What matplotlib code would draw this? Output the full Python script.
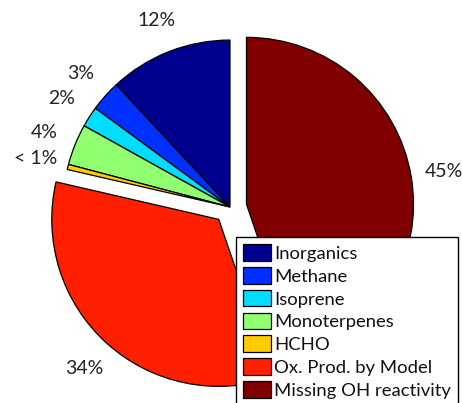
import numpy as np
import matplotlib
matplotlib.use("Agg")
import matplotlib.pyplot as plt

plt.rcParams['font.family'] = ['Lato', 'DejaVu Sans']

# contributions to total OH reactivity (%)
names = ["Inorganics", "Methane", "Isoprene", "Monoterpenes", "HCHO",
         "Ox. Prod. by Model", "Missing OH reactivity"]
values = [12, 3, 2, 4, 0.5, 34, 45]
pct_labels = ["12%", "3%", "2%", "4%", "< 1%", "34%", "45%"]
colors = ["#00008F", "#0030FF", "#00DDFF", "#90FF70", "#FFCC00", "#FF2000", "#800000"]
explode = [0, 0, 0, 0, 0, 0.1, 0.1]

fig = plt.figure(figsize=(4.62, 4.03), dpi=100)
ax = fig.add_axes([0, 0, 1, 1])

wedges, texts = ax.pie(values, labels=pct_labels, colors=colors, explode=explode,
                       startangle=90, counterclock=True, labeldistance=1.2,
                       wedgeprops=dict(edgecolor="black", linewidth=0.9),
                       textprops=dict(fontsize=14, color="#222222"))
for t in texts:
    t.set_horizontalalignment("center")
    t.set_verticalalignment("center")

ax.set_xlim(-1.377, 1.389)
ax.set_ylim(-1.174, 1.240)
ax.set_aspect("auto")
ax.axis("off")

leg = fig.legend(wedges, names, loc="upper left", bbox_to_anchor=(236 / 462, 1 - 237 / 403),
                 borderaxespad=0, fontsize=13.3, fancybox=False, framealpha=1,
                 edgecolor="black", handlelength=1.5, handleheight=1.0,
                 handletextpad=0.15, labelspacing=0.28, borderpad=0.4)
leg.get_frame().set_linewidth(1.0)
for t in leg.get_texts():
    t.set_color("#111111")

fig.savefig("out.png", dpi=100)
